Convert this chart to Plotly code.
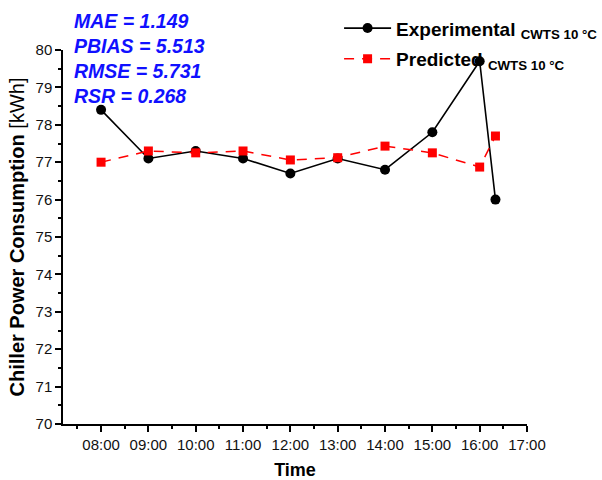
import plotly.graph_objects as go

times = ["08:00", "09:00", "10:00", "11:00", "12:00", "13:00", "14:00", "15:00", "16:00", "16:20"]
experimental = [78.4, 77.1, 77.3, 77.1, 76.7, 77.1, 76.8, 77.8, 79.7, 76.0]
predicted = [77.0, 77.3, 77.25, 77.3, 77.06, 77.12, 77.43, 77.25, 76.87, 77.7]
metrics = ["MAE = 1.149", "PBIAS = 5.513", "RMSE = 5.731", "RSR = 0.268"]
day = "2024-01-01 "
x = [day + t for t in times]

FONT = "Liberation Sans, Arial, sans-serif"

fig = go.Figure()
fig.add_trace(go.Scatter(
    x=x, y=experimental, mode="lines+markers",
    name="<b>Experimental</b> <sub><b>CWTS 10 °C</b></sub>",
    legendgroup="exp",
    line=dict(color="black", width=1.6),
    marker=dict(symbol="circle", size=10, color="black"),
))
fig.add_trace(go.Scatter(
    x=x, y=predicted, mode="lines+markers",
    name="<b>Predicted</b> <sub><b>CWTS 10 °C</b></sub>",
    legendgroup="pred",
    line=dict(color="#ff0000", width=1.5, dash="10px,8px"),
    marker=dict(symbol="square", size=9, color="#ff0000"),
))

ys = [1.077, 1.010, 0.944, 0.877]
for t, yy in zip(metrics, ys):
    fig.add_annotation(
        text="<b><i>" + t + "</i></b>", xref="paper", yref="paper",
        x=0.02, y=yy, xanchor="left", yanchor="middle", showarrow=False,
        font=dict(family=FONT, size=19.5, color="#1010ff"),
    )

fig.update_layout(
    width=602, height=480,
    margin=dict(l=63, r=75, t=50, b=56, autoexpand=False),
    paper_bgcolor="white", plot_bgcolor="white",
    font=dict(family=FONT, color="black"),
    showlegend=True,
    legend=dict(
        x=0.595, y=1.109, xanchor="left", yanchor="top",
        bgcolor="rgba(0,0,0,0)", font=dict(family=FONT, size=19, color="black"),
        itemwidth=47, tracegroupgap=3,
    ),
    xaxis=dict(
        type="date", range=[day + "07:11:45", day + "17:00"],
        tickformat="%H:%M", dtick=3600000, tick0=day + "08:00",
        showline=True, linecolor="black", linewidth=1.5,
        ticks="outside", ticklen=6, tickwidth=1.5, tickcolor="black",
        minor=dict(ticks="outside", ticklen=3, tickwidth=1.5, tickcolor="black", dtick=1800000),
        showgrid=False, zeroline=False,
        tickfont=dict(family=FONT, size=15, color="#111"),
        title=dict(text="<b>Time</b>", font=dict(family=FONT, size=18), standoff=12),
    ),
    yaxis=dict(
        range=[70, 80], dtick=1, tick0=70,
        showline=True, linecolor="black", linewidth=1.5,
        ticks="outside", ticklen=6, tickwidth=1.5, tickcolor="black",
        minor=dict(ticks="outside", ticklen=3, tickwidth=1.5, tickcolor="black", dtick=0.5),
        showgrid=False, zeroline=False,
        tickfont=dict(family=FONT, size=15, color="#111"),
        title=dict(text="<b>Chiller Power Consumption</b> [kWh]", font=dict(family=FONT, size=20), standoff=6),
    ),
)

fig.write_html("out.html")
